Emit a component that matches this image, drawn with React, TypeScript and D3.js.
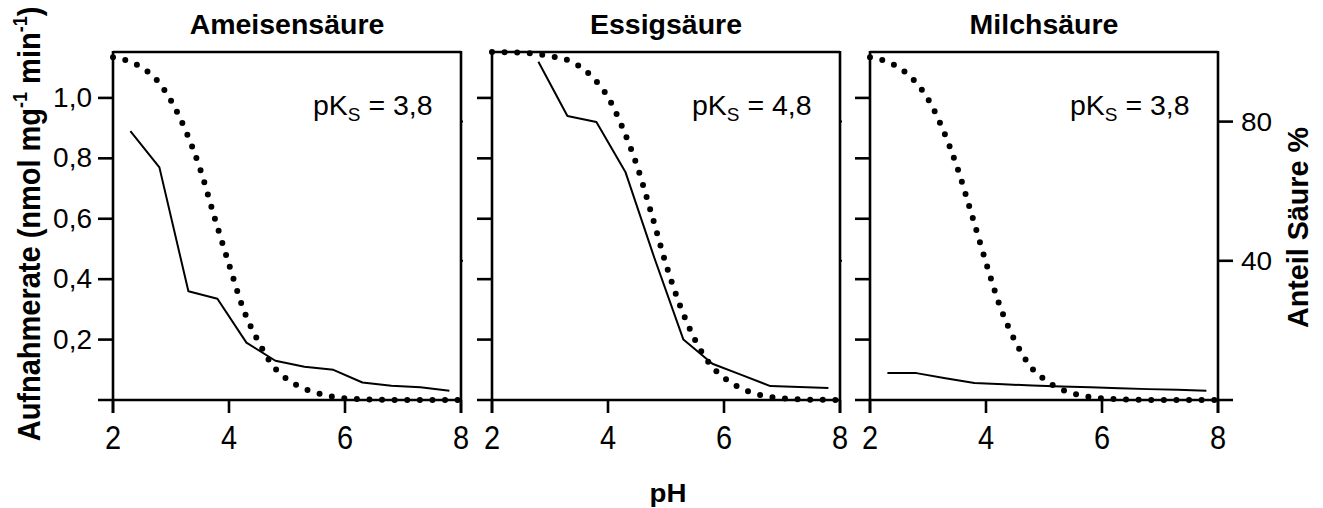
import React from "react";
import * as d3 from "d3";

// ---- Data ----
const panelTitles = ["Ameisensäure", "Essigsäure", "Milchsäure"];
const pkLabels = ["3,8", "4,8", "3,8"];

const xTicks = [2, 4, 6, 8];
const yTicksLeft = [0.2, 0.4, 0.6, 0.8, 1.0];
const yTickLabelsLeft = ["0,2", "0,4", "0,6", "0,8", "1,0"];
const yTicksRight = [40, 80];

// dotted curves: fraction of undissociated acid (%)
const acidPH1 = [2, 2.25, 2.5, 2.75, 3, 3.25, 3.5, 3.75, 4, 4.25, 4.5, 4.75, 5, 5.25, 5.5, 6, 6.5, 7, 8];
const acidPct1 = [98.5, 97.5, 95.5, 92, 86, 77.5, 66.5, 52.5, 39, 26, 17, 10, 6, 3.6, 2.1, 0.5, 0.1, 0, 0];

const acidPH2 = [2, 2.5, 2.75, 3, 3.25, 3.5, 3.75, 4, 4.25, 4.5, 4.75, 5, 5.25, 5.5, 5.75, 6, 6.25, 6.5, 7, 7.5, 8];
const acidPct2 = [100, 99.8, 99.5, 98.8, 98, 96, 92.5, 87, 78.3, 67.3, 53.5, 39, 26.8, 17.3, 10.5, 6.4, 3.7, 2.0, 0.5, 0.1, 0];

const acidPH3 = [2, 2.25, 2.5, 2.75, 3, 3.25, 3.5, 3.75, 4, 4.25, 4.5, 4.75, 5, 5.25, 5.5, 6, 6.5, 7, 8];
const acidPct3 = [98.5, 97.5, 95.5, 92, 86.5, 78, 67, 53.5, 39.5, 26.5, 17, 10, 6, 3.4, 1.9, 0.5, 0.1, 0, 0];

// solid curves: uptake rate (nmol mg-1 min-1)
const uptakePH1 = [2.3, 2.8, 3.3, 3.8, 4.3, 4.8, 5.3, 5.8, 6.3, 6.8, 7.3, 7.8];
const uptake1 = [0.89, 0.77, 0.36, 0.335, 0.19, 0.13, 0.11, 0.1, 0.058, 0.047, 0.042, 0.031];

const uptakePH2 = [2.8, 3.3, 3.8, 4.3, 4.8, 5.3, 5.8, 6.3, 6.8, 7.3, 7.8];
const uptake2 = [1.12, 0.94, 0.92, 0.755, 0.47, 0.2, 0.12, 0.083, 0.046, 0.043, 0.04];

const uptakePH3 = [2.3, 2.8, 3.3, 3.8, 4.3, 4.8, 5.3, 5.8, 6.3, 6.8, 7.3, 7.8];
const uptake3 = [0.089, 0.089, 0.072, 0.056, 0.052, 0.048, 0.045, 0.042, 0.039, 0.036, 0.034, 0.031];

const acidPH = [acidPH1, acidPH2, acidPH3];
const acidPct = [acidPct1, acidPct2, acidPct3];
const uptakePH = [uptakePH1, uptakePH2, uptakePH3];
const uptake = [uptake1, uptake2, uptake3];

// ---- Layout ----
const W = 1323;
const H = 508;
const TOP = 52;
const BOTTOM = 400;
const PANEL_LEFTS = [113, 492, 870];
const PANEL_W = 348;
const TICK = 15;
const FONT = "'Liberation Sans', Arial, Helvetica, sans-serif";

const yLeft = d3.scaleLinear().domain([0, 1.152]).range([BOTTOM, TOP]);
const yRight = d3.scaleLinear().domain([0, 100]).range([BOTTOM, TOP]);

function T({ x, y, sx = 1, sy = 1, rot = 0, size, bold = false, anchor = "start", children }: any) {
  return (
    <text
      transform={`translate(${x},${y}) rotate(${rot}) scale(${sx},${sy})`}
      fontSize={size}
      fontFamily={FONT}
      fontWeight={bold ? "bold" : "normal"}
      textAnchor={anchor}
      fill="#000"
    >
      {children}
    </text>
  );
}

function Panel({ i }: { i: number }) {
  const left = PANEL_LEFTS[i];
  const right = left + PANEL_W;
  const x = d3.scaleLinear().domain([2, 8]).range([left, right]);

  const dotted = d3
    .line<number>()
    .x((_, k) => x(acidPH[i][k]))
    .y((d) => yRight(d))
    .curve(d3.curveMonotoneX)(acidPct[i]) as string;

  const solid = d3
    .line<number>()
    .x((_, k) => x(uptakePH[i][k]))
    .y((d) => yLeft(d))(uptake[i]) as string;

  const sw = 2.6;
  return (
    <g>
      {/* title */}
      <T x={(left + right) / 2} y={34} size={28.5} sy={0.95} bold anchor="middle">
        {panelTitles[i]}
      </T>
      {/* frame */}
      <line x1={left} x2={right} y1={TOP} y2={TOP} stroke="#000" strokeWidth={sw} />
      <line x1={right} x2={right} y1={TOP - 1} y2={BOTTOM + 13} stroke="#000" strokeWidth={sw} />
      <line x1={left} x2={left} y1={TOP - 1} y2={BOTTOM + 13} stroke="#000" strokeWidth={sw} />
      <line
        x1={left - TICK}
        x2={i === 2 ? right + TICK : right}
        y1={BOTTOM}
        y2={BOTTOM}
        stroke="#000"
        strokeWidth={sw}
      />
      {/* left ticks */}
      {yTicksLeft.map((t) => (
        <line key={t} x1={left - TICK} x2={left} y1={yLeft(t)} y2={yLeft(t)} stroke="#000" strokeWidth={sw} />
      ))}
      {i === 0 &&
        yTicksLeft.map((t, k) => (
          <T key={t} x={92} y={yLeft(t) + 9} size={28} anchor="end">
            {yTickLabelsLeft[k]}
          </T>
        ))}
      {/* x ticks */}
      {xTicks.map((t) => (
        <g key={t}>
          <line x1={x(t)} x2={x(t)} y1={BOTTOM} y2={BOTTOM + 13} stroke="#000" strokeWidth={sw} />
          <T x={x(t)} y={449} size={29} sy={1.12} anchor="middle">
            {t}
          </T>
        </g>
      ))}
      {/* right ticks */}
      {yTicksRight.map((t) =>
        i === 2 ? (
          <g key={t}>
            <line x1={right} x2={right + TICK} y1={yRight(t)} y2={yRight(t)} stroke="#000" strokeWidth={sw} />
            <T x={right + 23} y={yRight(t) + 9} size={28} sy={0.95}>
              {t}
            </T>
          </g>
        ) : (
          <line key={t} x1={right} x2={right + 2} y1={yRight(t)} y2={yRight(t)} stroke="#000" strokeWidth={2} />
        )
      )}
      {/* pKs label */}
      <T x={left + 200} y={115} size={28.5} sy={0.95}>
        pK
        <tspan fontSize={19} dy={6}>
          S
        </tspan>
        <tspan dy={-6}> = {pkLabels[i]}</tspan>
      </T>
      {/* curves */}
      <path d={solid} fill="none" stroke="#000" strokeWidth={2} strokeLinejoin="round" />
      <path
        d={dotted}
        fill="none"
        stroke="#000"
        strokeWidth={6}
        strokeLinecap="round"
        strokeDasharray="0 12.6"
      />
    </g>
  );
}

export default function App() {
  return (
    <svg
      width={W}
      height={H}
      viewBox={`0 0 ${W} ${H}`}
      style={{ position: "absolute", left: 0, top: 0, background: "#fff" }}
    >
      <rect x={0} y={0} width={W} height={H} fill="#fff" />
      {[0, 1, 2].map((i) => (
        <Panel key={i} i={i} />
      ))}
      {/* y-axis label left */}
      <T x={40} y={224} rot={-90} size={29} sy={1.1} bold anchor="middle">
        Aufnahmerate (nmol mg
        <tspan fontSize={18} dy={-12}>-1</tspan>
        <tspan dy={12}> min</tspan>
        <tspan fontSize={18} dy={-12}>-1</tspan>
        <tspan dy={12}>)</tspan>
      </T>
      {/* y-axis label right */}
      <T x={1308} y={227.5} rot={-90} size={28.7} bold anchor="middle">
        Anteil Säure %
      </T>
      {/* x label */}
      <T x={668} y={502} size={27.7} sy={0.95} bold anchor="middle">
        pH
      </T>
    </svg>
  );
}
